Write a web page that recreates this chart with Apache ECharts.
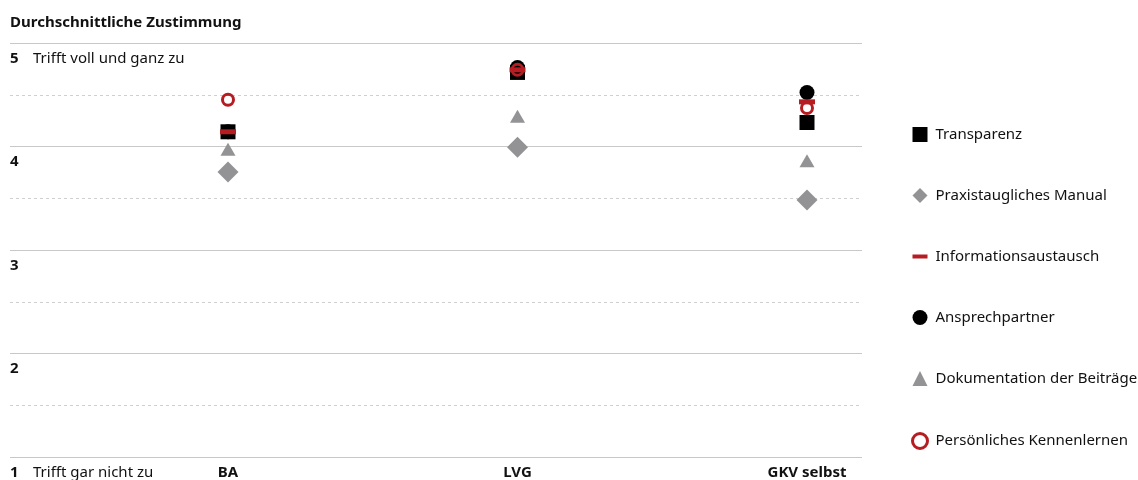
<!DOCTYPE html>
<html><head><meta charset="utf-8">
<script src="https://cdn.jsdelivr.net/npm/echarts@6/dist/echarts.min.js"></script>
<style>html,body{margin:0;padding:0;background:#fff}#c{width:1138px;height:480px}</style>
</head><body><div id="c"></div>
<script>
var categories = ['BA', 'LVG', 'GKV selbst'];
var seriesNames = ['Transparenz', 'Praxistaugliches Manual', 'Informationsaustausch', 'Ansprechpartner', 'Dokumentation der Beiträge', 'Persönliches Kennenlernen'];
var transparenz = [4.14, 4.715, 4.23];
var manual = [3.75, 3.99, 3.48];
var info = [4.14, 4.74, 4.43];
var ansprech = [4.14, 4.763, 4.52];
var doku = [3.97, 4.29, 3.86];
var kennenlernen = [4.45, 4.74, 4.37];
var yTickLabels = {1: 'Trifft gar nicht zu', 2: '', 3: '', 4: '', 5: 'Trifft voll und ganz zu'};

var FONT = 'Noto Sans';
var FS = 15;
var RED = '#b51d22', GRAY = '#939396', BLACK = '#000';
var chart = echarts.init(document.getElementById('c'), null, {renderer: 'canvas'});

var grid0 = {left: 10, right: 276, top: 43, bottom: 23};
var grid1 = {left: 228, right: 331, top: 43, bottom: 23};

var option = {
  animation: false,
  textStyle: {fontFamily: FONT},
  title: {text: 'Durchschnittliche Zustimmung', left: 10, top: 15, padding: 0,
    textStyle: {fontFamily: FONT, fontSize: FS, fontWeight: 'bold', color: '#111'}},
  grid: [grid0, grid1],
  xAxis: [
    {gridIndex: 0, type: 'value', min: 0, max: 1, show: false},
    {gridIndex: 1, type: 'category', data: categories, boundaryGap: false,
      axisLine: {show: false}, axisTick: {show: false}, splitLine: {show: false},
      axisLabel: {margin: 9, fontFamily: FONT, fontSize: FS, fontWeight: 'bold', color: '#111'}}
  ],
  yAxis: [
    {gridIndex: 0, type: 'value', position: 'left', min: 1, max: 5, interval: 0.5,
      axisLine: {show: false}, axisTick: {show: false}, axisLabel: {show: false},
      splitLine: {lineStyle: {color: ['rgba(0,0,0,0)', '#cfcfcf'], type: [3, 3], width: 1}}},
    {gridIndex: 0, type: 'value', position: 'left', min: 1, max: 5, interval: 1,
      axisLine: {show: false}, axisTick: {show: false},
      splitLine: {lineStyle: {color: '#c8c8c8', width: 1}},
      axisLabel: {inside: true, margin: 0, align: 'left', verticalAlign: 'top', padding: [8, 0, 0, 0],
        formatter: function (v) { return '{b|' + v + '}{n|' + (yTickLabels[v] || '') + '}'; },
        rich: {b: {fontFamily: FONT, fontSize: FS, fontWeight: 'bold', color: '#111', width: 23},
               n: {fontFamily: FONT, fontSize: FS, color: '#111'}}}},
    {gridIndex: 1, type: 'value', min: 1, max: 5, show: false}
  ],
  legend: {orient: 'vertical', left: 906, top: 122, itemGap: 46, itemWidth: 15, itemHeight: 15,
    textStyle: {fontFamily: FONT, fontSize: FS, color: '#111', padding: [0, 0, 0, 3], lineHeight: 15},
    data: [
      {name: seriesNames[0], icon: 'rect', itemStyle: {color: BLACK}},
      {name: seriesNames[1], icon: 'diamond', itemStyle: {color: GRAY}},
      {name: seriesNames[2], icon: 'path://M0,0H15V4H0Z', itemStyle: {color: RED}},
      {name: seriesNames[3], icon: 'circle', itemStyle: {color: BLACK}},
      {name: seriesNames[4], icon: 'triangle', itemStyle: {color: GRAY}},
      {name: seriesNames[5], icon: 'circle', itemStyle: {color: '#fff', borderColor: RED, borderWidth: 3}}
    ]},
  series: [
    {name: seriesNames[0], type: 'scatter', xAxisIndex: 1, yAxisIndex: 2, data: transparenz, z: 3,
      symbol: 'rect', symbolSize: 15, itemStyle: {color: BLACK, opacity: 1}},
    {name: seriesNames[1], type: 'scatter', xAxisIndex: 1, yAxisIndex: 2, data: manual, z: 2,
      symbol: 'diamond', symbolSize: 21, itemStyle: {color: GRAY, opacity: 1}},
    {name: seriesNames[2], type: 'scatter', xAxisIndex: 1, yAxisIndex: 2, data: info, z: 4,
      symbol: 'rect', symbolSize: [16, 5], itemStyle: {color: RED, opacity: 1}},
    {name: seriesNames[3], type: 'scatter', xAxisIndex: 1, yAxisIndex: 2, data: ansprech, z: 2,
      symbol: 'circle', symbolSize: 15, itemStyle: {color: BLACK, opacity: 1}},
    {name: seriesNames[4], type: 'scatter', xAxisIndex: 1, yAxisIndex: 2, data: doku, z: 2,
      symbol: 'triangle', symbolSize: [15, 13], itemStyle: {color: GRAY, opacity: 1}},
    {name: seriesNames[5], type: 'scatter', xAxisIndex: 1, yAxisIndex: 2, data: kennenlernen, z: 5,
      symbol: 'circle', symbolSize: 11, itemStyle: {color: 'rgba(255,255,255,0)', borderColor: RED, borderWidth: 3, opacity: 1}}
  ]
};
chart.setOption(option);
</script>
</body></html>
